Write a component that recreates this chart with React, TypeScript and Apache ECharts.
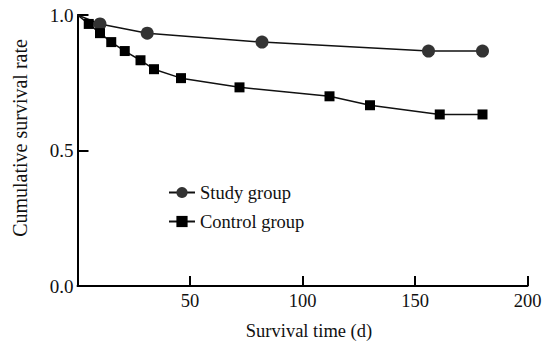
import React, { useEffect, useRef } from "react";
import * as echarts from "echarts";

const studyTime = [0, 10, 31, 82, 156, 180];
const studyRate = [1, 0.967, 0.933, 0.9, 0.867, 0.867];
const controlTime = [0, 5, 10, 15, 21, 28, 34, 46, 72, 112, 130, 161, 180];
const controlRate = [1, 0.967, 0.933, 0.9, 0.867, 0.833, 0.8, 0.767, 0.733, 0.7, 0.667, 0.633, 0.633];
const seriesNames = ["Study group", "Control group"];
const xTitle = "Survival time (d)";
const yTitle = "Cumulative survival rate";

const FONT = "Liberation Serif";

function toData(t: number[], r: number[]) {
  return t.map((x, i) =>
    i === 0 ? { value: [x, r[i]], symbol: "none" } : { value: [x, r[i]] }
  );
}

export default function App() {
  const ref = useRef<HTMLDivElement>(null);
  useEffect(() => {
    if (!ref.current) return;
    const chart = echarts.init(ref.current, undefined, { renderer: "svg" });
    chart.setOption({
      animation: false,
      backgroundColor: "#ffffff",
      textStyle: { fontFamily: FONT },
      grid: { left: 77.5, right: 26.5, top: 15, bottom: 60 },
      legend: {
        orient: "vertical",
        left: 163,
        top: 178,
        itemWidth: 26,
        itemHeight: 14,
        itemGap: 10,
        textStyle: { fontFamily: FONT, fontSize: 18.5, color: "#111" },
        data: seriesNames,
      },
      xAxis: {
        type: "value",
        min: 0,
        max: 200,
        interval: 50,
        axisLine: { lineStyle: { color: "#000", width: 2 } },
        axisTick: { inside: true, length: 10, lineStyle: { color: "#000", width: 2 } },
        splitLine: { show: false },
        axisLabel: {
          showMinLabel: false,
          fontFamily: FONT,
          fontSize: 18.5,
          color: "#111",
          margin: 5,
        },
      },
      yAxis: {
        type: "value",
        min: 0,
        max: 1,
        interval: 0.5,
        axisLine: { show: true, lineStyle: { color: "#000", width: 2 } },
        axisTick: { show: true, inside: true, length: 11, lineStyle: { color: "#000", width: 2 } },
        splitLine: { show: false },
        axisLabel: {
          formatter: (v: number) => v.toFixed(1),
          fontFamily: FONT,
          fontSize: 19,
          color: "#111",
          margin: 4,
        },
      },
      graphic: [
        {
          type: "text",
          x: 309,
          y: 331,
          style: {
            text: xTitle,
            fontFamily: FONT,
            fontSize: 18.5,
            fill: "#111",
            align: "center",
            verticalAlign: "middle",
          },
        },
        {
          type: "text",
          x: 20,
          y: 138,
          rotation: Math.PI / 2,
          style: {
            text: yTitle,
            fontFamily: FONT,
            fontSize: 20,
            fill: "#111",
            align: "center",
            verticalAlign: "middle",
          },
        },
      ],
      series: [
        {
          name: seriesNames[0],
          type: "line",
          data: toData(studyTime, studyRate),
          symbol: "circle",
          symbolSize: 13,
          lineStyle: { color: "#111", width: 1.5 },
          itemStyle: { color: "#333" },
        },
        {
          name: seriesNames[1],
          type: "line",
          data: toData(controlTime, controlRate),
          symbol: "rect",
          symbolSize: 10,
          lineStyle: { color: "#111", width: 1.5 },
          itemStyle: { color: "#000" },
        },
      ],
    });
    return () => chart.dispose();
  }, []);
  return (
    <div
      ref={ref}
      style={{ position: "fixed", left: 0, top: 0, width: 554, height: 346 }}
    />
  );
}
